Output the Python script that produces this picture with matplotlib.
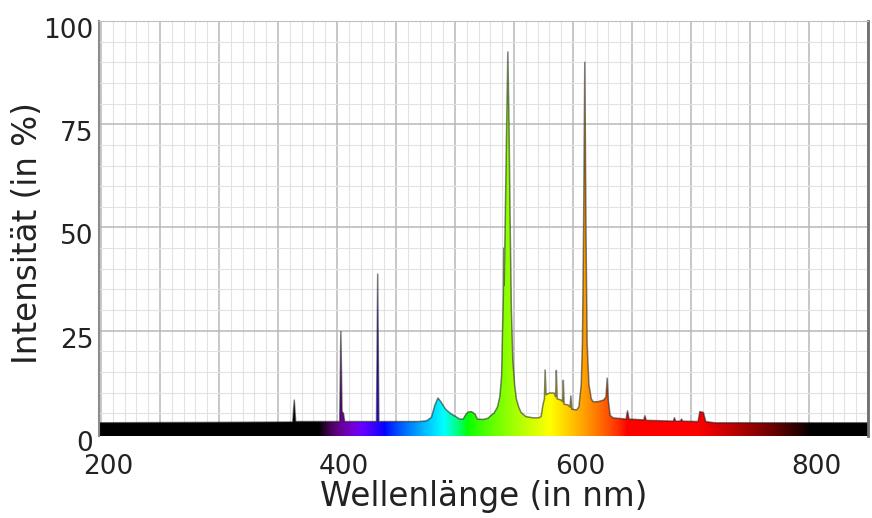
import numpy as np
import matplotlib
matplotlib.use("Agg")
import matplotlib.pyplot as plt
from matplotlib.ticker import MultipleLocator, FuncFormatter
from matplotlib.transforms import ScaledTranslation

# ============================================================================
# DATEN: Spektrum einer Leuchtstofflampe
# ============================================================================

wellenlaenge = [
    198, 300, 362.5, 363.8, 365,
    402.3, 403.3, 404.3, 405.5, 406.5,
    433.5, 434.5, 435.5,
    470, 476, 480, 483, 485.6, 488, 492, 496, 500, 504,
    507, 509, 511, 514, 517, 519, 524, 528, 531, 533, 536, 538,
    539.5, 540.3, 541.0, 541.3, 541.7, 542.5, 543.8, 544.8, 545.8, 546.8,
    547.8, 549, 550.5, 552, 554, 556, 560, 566, 571,
    573, 574.5, 575.8, 576.4, 577.2, 580, 584, 585.3, 585.9, 586.6,
    590, 591.2, 591.8, 592.5, 596, 597.5, 598.2, 599, 603, 605,
    607, 608, 609, 610, 611, 612, 613.5, 615.5, 617, 621, 626,
    628, 629, 630, 631.5, 634,
    645, 646.2, 647.5, 660, 661, 662, 685, 686, 687, 691, 692, 693,
    706, 707.5, 710.5, 712.5, 720, 850,
]
intensitaet = [
    2.7, 2.8, 2.9, 8.2, 3.0,
    3.0, 24.8, 5.4, 5.0, 3.0,
    3.0, 38.7, 3.0,
    3.0, 3.2, 4.0, 7.0, 8.7, 7.8, 6.0, 5.0, 4.3, 3.6,
    3.6, 4.6, 5.3, 5.4, 4.8, 3.6, 3.5, 3.8, 4.6, 5.0, 6.5, 9.0,
    14, 25, 34, 45, 36, 50, 75, 92.5, 75, 50,
    30, 18, 12, 8.5, 6.5, 5.2, 4.2, 3.9, 3.9,
    4.2, 7.0, 8.5, 15.5, 9.5, 9.9, 9.9, 9.0, 15.4, 8.5,
    8.2, 7.8, 13.0, 7.2, 7.0, 6.5, 9.2, 6.0, 5.8, 6.5,
    12, 22, 50, 90, 50, 22, 12, 8.5, 7.8, 7.8, 8.2,
    9.0, 13.5, 8.0, 4.5, 3.9,
    3.6, 5.6, 3.6, 3.4, 4.4, 3.3, 3.1, 3.9, 3.1, 3.1, 3.6, 3.1,
    3.0, 5.4, 5.2, 3.0, 2.7, 2.7,
]

x_ticks = [200, 400, 600, 800]
y_ticks = [0, 25, 50, 75, 100]

X_MIN, X_MAX = 198.3, 850
Y_MIN, Y_MAX = -0.5, 100


def wellenlaenge_zu_rgb(w):
    """Farbe einer Wellenlaenge (nach Bruton), ausserhalb sichtbar -> schwarz."""
    w = np.asarray(w, dtype=float)
    r = np.zeros_like(w)
    g = np.zeros_like(w)
    b = np.zeros_like(w)

    m = (w >= 380) & (w < 440)
    r[m] = -(w[m] - 440) / 60
    b[m] = 1
    m = (w >= 440) & (w < 490)
    g[m] = (w[m] - 440) / 50
    b[m] = 1
    m = (w >= 490) & (w < 510)
    g[m] = 1
    b[m] = -(w[m] - 510) / 20
    m = (w >= 510) & (w < 580)
    r[m] = (w[m] - 510) / 70
    g[m] = 1
    m = (w >= 580) & (w < 645)
    r[m] = 1
    g[m] = -(w[m] - 645) / 65
    m = w >= 645
    r[m] = 1

    # Helligkeit an den Raendern ausblenden
    faktor = np.ones_like(w)
    faktor = np.where(w < 420, np.clip((w - 385) / 35, 0, 1), faktor)
    faktor = np.where(w > 705, np.clip((800 - w) / 95, 0, 1), faktor)

    rgb = np.stack([r, g, b], axis=-1) * faktor[:, None]
    return np.clip(rgb, 0, 1) ** 0.8


# ============================================================================
# GRAFIK
# ============================================================================

fig = plt.figure(figsize=(8.72, 5.18), dpi=100)
ax = fig.add_axes([0.1135, 0.1583, 0.8819, 0.8012])

# Gitter
ax.xaxis.set_major_locator(MultipleLocator(50))
ax.xaxis.set_minor_locator(MultipleLocator(10))
ax.yaxis.set_major_locator(MultipleLocator(25))
ax.yaxis.set_minor_locator(MultipleLocator(5))
ax.grid(which='major', color='#b8b8b8', linewidth=1.1)
ax.grid(which='minor', color='#e2e2e2', linewidth=0.8)
ax.set_axisbelow(True)

# Farbverlauf unter der Kurve
w_bild = np.linspace(X_MIN, X_MAX, 2000)
farben = wellenlaenge_zu_rgb(w_bild)
bild = ax.imshow(farben[np.newaxis, :, :], extent=[X_MIN, X_MAX, Y_MIN, Y_MAX],
                 aspect='auto', origin='lower', interpolation='bilinear', zorder=2)
flaeche = ax.fill_between(wellenlaenge, Y_MIN, intensitaet,
                          facecolor='none', edgecolor='none', zorder=2)
bild.set_clip_path(flaeche.get_paths()[0], transform=ax.transData)

# Umriss der Kurve
ax.plot(wellenlaenge, intensitaet, color='#1a1a1a', linewidth=1.1,
        alpha=0.55, zorder=3)

ax.set_xlim(X_MIN, X_MAX)
ax.set_ylim(Y_MIN, Y_MAX)

ax.xaxis.set_major_formatter(FuncFormatter(
    lambda v, pos: f'{int(round(v))}' if int(round(v)) in x_ticks else ''))
ax.yaxis.set_major_formatter(FuncFormatter(
    lambda v, pos: f'{int(round(v))}' if int(round(v)) in y_ticks else ''))

ax.tick_params(which='both', length=0, labelsize=19, colors='#222222')
ax.tick_params(axis='x', pad=13)
ax.tick_params(axis='y', pad=4)

# Beschriftungen etwas versetzt wie im Original
for lab in ax.get_xticklabels():
    lab.set_transform(lab.get_transform() + ScaledTranslation(0.07, 0, fig.dpi_scale_trans))
for lab in ax.get_yticklabels():
    lab.set_transform(lab.get_transform() + ScaledTranslation(0, -0.07, fig.dpi_scale_trans))

ax.set_xlabel('Wellenlänge (in nm)', fontsize=23.5, color='#222222', labelpad=0)
ax.set_ylabel('Intensität (in %)', fontsize=23.5, color='#222222', labelpad=2)
ax.yaxis.set_label_coords(-0.071, 0.49)

for seite in ['top', 'left', 'right', 'bottom']:
    ax.spines[seite].set_zorder(4)
ax.spines['top'].set_color('#c0c0c0')
ax.spines['left'].set_color('#8c8c8c')
ax.spines['left'].set_linewidth(1.5)
ax.spines['right'].set_color('#6e6e6e')
ax.spines['right'].set_linewidth(2)
ax.spines['bottom'].set_visible(False)

fig.savefig('out.png', dpi=100)
